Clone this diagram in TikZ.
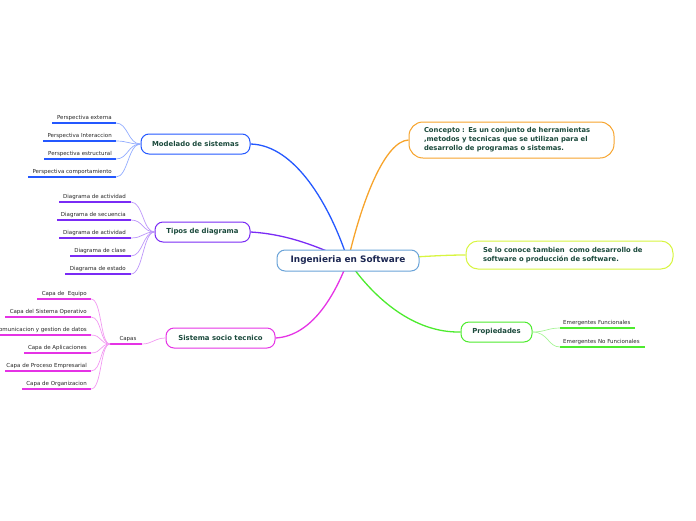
\documentclass[tikz,border=0pt]{standalone}
\usepackage{fontspec}
\setmainfont{DejaVu Sans}
\usetikzlibrary{backgrounds}
\definecolor{txtgreen}{HTML}{1B4A3C}
\definecolor{txtnavy}{HTML}{1C2752}
\definecolor{leaftxt}{HTML}{262626}
\definecolor{cblue}{HTML}{2458FF}
\definecolor{cpurple}{HTML}{7A2BF5}
\definecolor{cmag}{HTML}{E533E5}
\definecolor{corange}{HTML}{F7A42C}
\definecolor{cyell}{HTML}{D8F540}
\definecolor{cgreen}{HTML}{4DEB2E}
\definecolor{ccenter}{HTML}{6AA3D8}
\tikzset{
  topic/.style={draw, rounded corners=8pt, line width=1pt, fill=white,
    font=\bfseries\fontsize{6.9}{8}\selectfont, text=txtgreen, inner sep=0pt,
    minimum height=20pt},
  leaf/.style={anchor=base east, inner sep=0pt, text=leaftxt,
    font=\fontsize{5.5}{6}\selectfont},
  uline/.style={line width=1.1pt},
  twig/.style={line width=0.7pt},
  mainc/.style={line width=1.3pt},
}
\begin{document}
\begin{tikzpicture}[x=1pt,y=-1pt]
\useasboundingbox (0,0) rectangle (696,520);

% central
\node[topic, draw=ccenter, text=txtnavy, minimum width=142pt, minimum height=21pt,
  font=\bfseries\fontsize{8.9}{10}\selectfont] (c) at (348,260.5) {Ingenieria en Software};

% main topics
\node[topic, draw=cblue, minimum width=109pt] (mod) at (195.5,144) {Modelado de sistemas};
\node[topic, draw=cpurple, minimum width=95pt] (tip) at (202.5,232) {Tipos de diagrama};
\node[topic, draw=cmag, minimum width=109pt] (soc) at (220.5,338) {Sistema socio tecnico};
\node[topic, draw=cgreen, minimum width=71pt] (pro) at (496.5,332) {Propiedades};
\node[topic, draw=corange, minimum height=36pt, rounded corners=14pt, text width=175pt,
  align=left, inner xsep=15pt, font=\bfseries\fontsize{6.8}{9}\selectfont] (con) at (511.5,140)
  {Concepto : Es un conjunto de herramientas\\,metodos y tecnicas que se utilizan para el\\desarrollo de programas o sistemas.};
\node[topic, draw=cyell, minimum height=28pt, rounded corners=12pt, text width=173pt,
  align=left, inner xsep=17pt, font=\bfseries\fontsize{6.8}{9}\selectfont] (se) at (569.5,255)
  {Se lo conoce tambien\ \ como desarrollo de\\software o producción de software.};

% main connectors
\begin{scope}[on background layer]
\draw[mainc, cblue] (mod.east) .. controls (295,145) and (330,205) .. (c.center);
\draw[mainc, corange] (con.west) .. controls (385,141) and (362,200) .. (c.center);
\draw[mainc, cpurple] (tip.east) .. controls (285,234) and (315,245) .. (c.center);
\draw[mainc, cmag] (soc.east) .. controls (312,336) and (335,295) .. (c.center);
\draw[mainc, cgreen] (pro.west) .. controls (415,333) and (375,300) .. (c.center);
\draw[mainc, cyell] (se.west) .. controls (440,255) and (420,257) .. (c.center);
\end{scope}

% Modelado leaves
\foreach \i/\y/\xs/\t in {1/123/52/Perspectiva externa, 2/141/43/Perspectiva Interaccion,
  3/159/44/Perspectiva estructural, 4/177/28/Perspectiva comportamiento}{
  \coordinate (ms\i) at (\xs,\y);
  \coordinate (me\i) at (116,\y);
  \draw[uline, cblue] (ms\i) -- (me\i);
  \node[leaf] (ml\i) at (112,\y-4) {\t};
  \draw[twig, cblue!50] (me\i) .. controls (128,\y) and (128,144) .. (mod.west);
}

% Tipos leaves
\foreach \i/\y/\xs/\t in {1/202/59/Diagrama de actividad, 2/220/57/Diagrama de secuencia,
  3/238/59/Diagrama de actividad, 4/256/70/Diagrama de clase, 5/274/65/Diagrama de estado}{
  \coordinate (ts\i) at (\xs,\y);
  \coordinate (te\i) at (131,\y);
  \draw[uline, cpurple] (ts\i) -- (te\i);
  \node[leaf] (tl\i) at (126,\y-4) {\t};
  \draw[twig, cpurple!50] (te\i) .. controls (143,\y) and (143,232) .. (tip.west);
}

% Capas
\coordinate (cps) at (110,344);
\coordinate (cpe) at (142,344);
\draw[uline, cmag] (cps) -- (cpe);
\node[leaf, anchor=base] (capas) at (128,340) {Capas};
\draw[twig, cmag!50] (cpe) .. controls (152,344) and (155,338) .. (soc.west);

\foreach \i/\y/\xs/\t in {1/299/37/Capa de\ \ Equipo, 2/317/5/Capa del Sistema Operativo,
  3/335/-5/Comunicacion y gestion de datos, 4/353/24/Capa de Aplicaciones,
  5/371/5/Capa de Proceso Empresarial, 6/389/22/Capa de Organizacion}{
  \coordinate (ks\i) at (\xs,\y);
  \coordinate (ke\i) at (91,\y);
  \draw[uline, cmag] (ks\i) -- (ke\i);
  \node[leaf] (kl\i) at (87,\y-4) {\t};
  \draw[twig, cmag!50] (ke\i) .. controls (102,\y) and (100,344) .. (cps);
}

% Propiedades leaves
\coordinate (ps1) at (560,328);
\coordinate (pe1) at (635,328);
\coordinate (ps2) at (560,347);
\coordinate (pe2) at (645,347);
\draw[uline, cgreen] (ps1) -- (pe1);
\draw[uline, cgreen] (ps2) -- (pe2);
\node[leaf, anchor=base west] (pl1) at (563,324.5) {Emergentes Funcionales};
\node[leaf, anchor=base west] (pl2) at (563,343) {Emergentes No Funcionales};
\draw[twig, cgreen!50] (pro.east) .. controls (545,332) and (548,328) .. (ps1);
\draw[twig, cgreen!50] (pro.east) .. controls (548,332) and (548,347) .. (ps2);
\end{tikzpicture}
\end{document}
